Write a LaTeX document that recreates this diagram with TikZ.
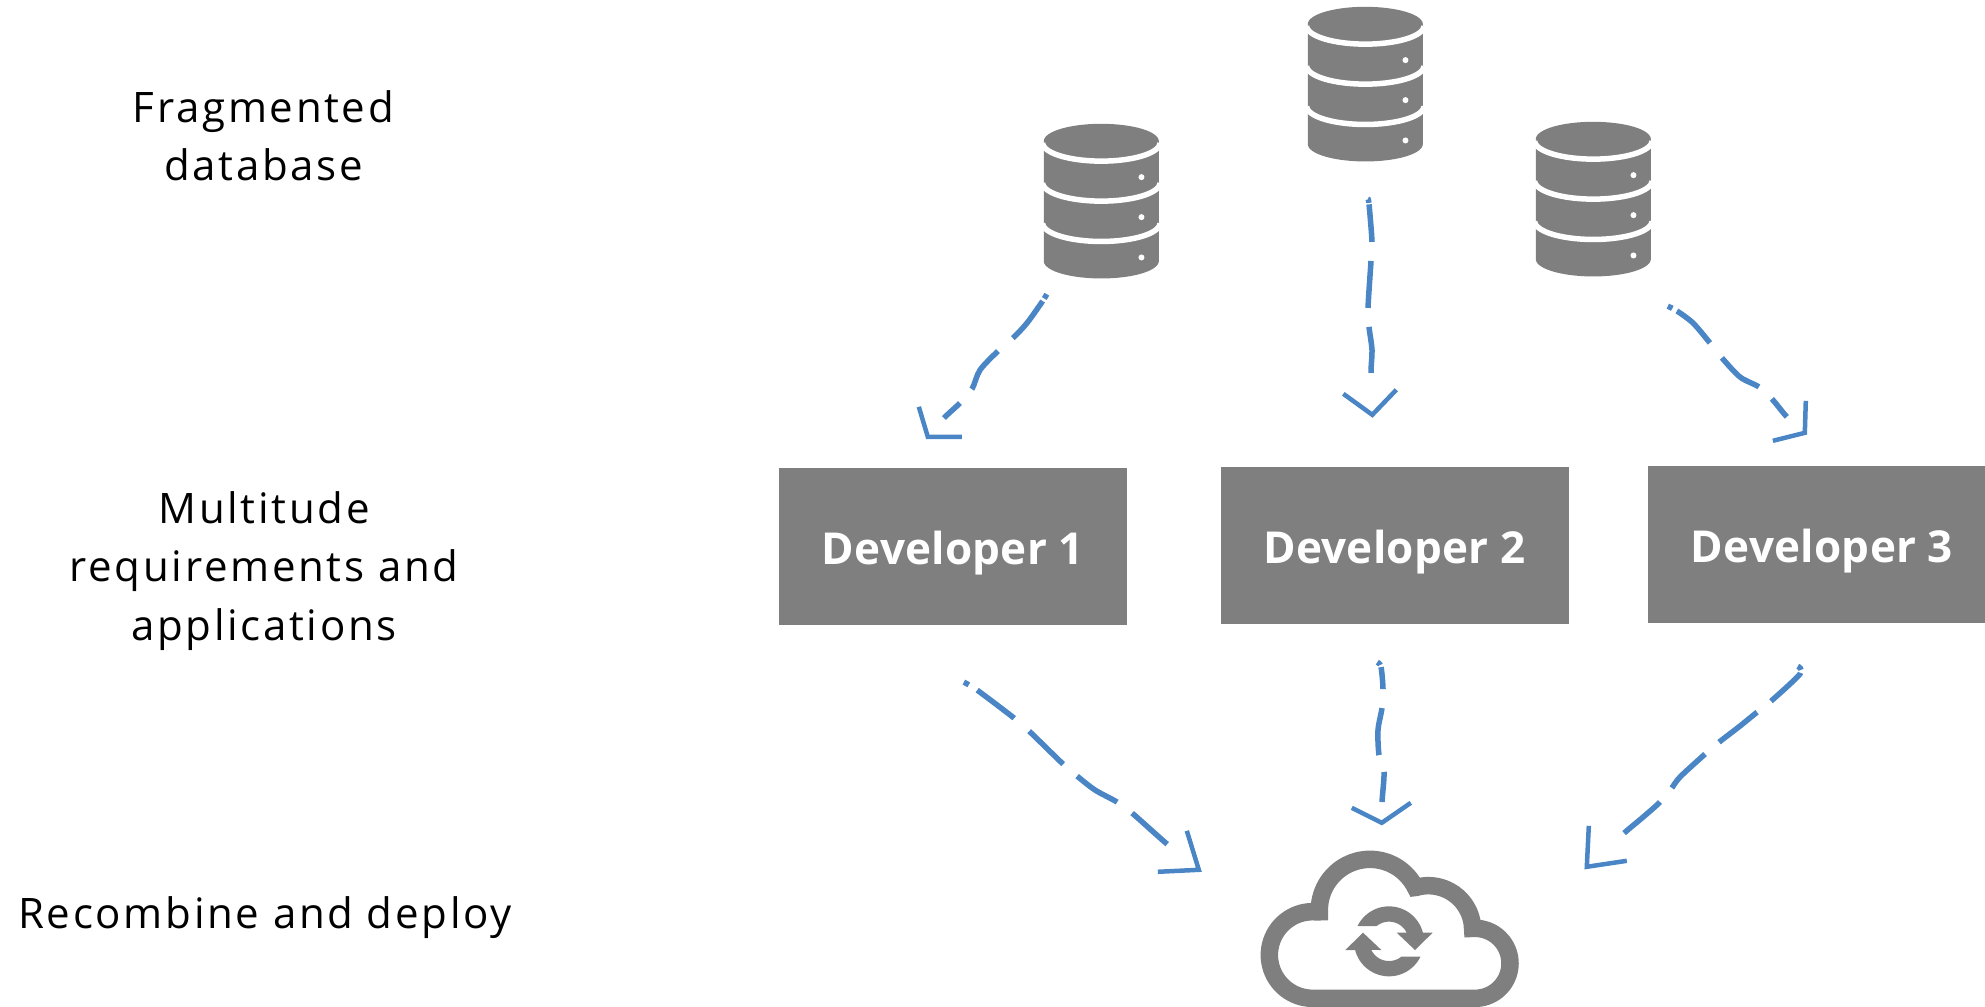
\documentclass[tikz,border=0pt]{standalone}
\usepackage{fontspec}
\setmainfont{Open Sans}
\newfontfamily\lblfont[LetterSpace=6.4]{Open Sans}
\newfontfamily\devfont[LetterSpace=0.6]{Open Sans}
\definecolor{iconGray}{HTML}{7F7F7F}
\definecolor{flowBlue}{HTML}{4A85C5}
\tikzset{
  x=1pt,y=-1pt,
  leftlabel/.style={align=center,inner sep=0pt,font=\lblfont\fontsize{42}{58.3}\selectfont},
  devbox/.style={fill=iconGray,text=white,inner sep=0pt,minimum width=348pt,minimum height=157pt,
    font=\devfont\bfseries\fontsize{44}{50}\selectfont,text height=35pt,text depth=0pt},
  iconbox/.style={inner sep=0pt,minimum width=115pt,minimum height=155pt},
  flow/.style={flowBlue,line width=5.5pt},
  chev/.style={flowBlue,line width=4.5pt,miter limit=10},
  database/.pic={
    \begin{scope}[scale=1/3]
      \fill[iconGray] plot[domain=180:360,samples=40] ({172.5+172.5*cos(\x)},{52+52*sin(\x)})
        -- plot[domain=0:180,samples=40] ({172.5+172.5*cos(\x)},{412+52*sin(\x)}) -- cycle;
      \foreach \yy in {57,177,298}
        \draw[white,line width=5.5pt] plot[domain=0:180,samples=40] ({172.5+176*cos(\x)},{\yy+55*sin(\x)});
      \foreach \yy in {160,280,401}
        \fill[white] (293,\yy) circle[radius=9];
    \end{scope}
  },
  syncarrow/.pic={
    \begin{scope}[scale=1/3]
    \fill[iconGray] plot[domain=206:345.6,samples=30] ({105*cos(\x)},{105*sin(\x)})
      -- (131,-26) -- (78,26) -- (23,-26)
      -- plot[domain=334:231,samples=30] ({59*cos(\x)},{59*sin(\x)}) -- cycle;
    \end{scope}
  }
}
\begin{document}
\begin{tikzpicture}
\useasboundingbox (0,0) rectangle (1985,1006);
\clip (0,0) rectangle (1985,1006);

% left labels
\node[leftlabel] (lblA) at (263.5,135.5) {Fragmented\\database};
\node[leftlabel] (lblB) at (264,571) {Multitude\\requirements and\\applications};
\node[leftlabel] (lblC) at (265,918) {Recombine and deploy};

% databases
\node[iconbox] (db1) at (1101.5,201.5) {};
\node[iconbox] (db2) at (1365.5,84.5) {};
\node[iconbox] (db3) at (1593.5,199.5) {};
\pic at (db1.north west) {database};
\pic at (db2.north west) {database};
\pic at (db3.north west) {database};

% developers
\node[devbox] (dev1) at (953,546.5) {Developer 1};
\node[devbox] (dev2) at (1394.5,545.5) {Developer 2};
\node[devbox] (dev3) at (1822,544.5) {Developer 3};

% cloud
\node[inner sep=0pt,minimum width=258pt,minimum height=157pt] (cloudicon) at (1390,928.5) {};
\begin{scope}[shift={(1220,780)},scale=1/3]
  \draw[iconGray,line width=17.5pt,miter limit=10]
    plot[domain=90:275,samples=40] ({278+130*cos(\x)},{525+130*sin(\x)})
    -- plot[domain=178:333.6,samples=40] ({450+152*cos(\x)},{390+152*sin(\x)})
    -- plot[domain=254:352,samples=30] ({625+133*cos(\x)},{450+133*sin(\x)})
    -- plot[domain=266:450,samples=40] ({765+105*cos(\x)},{550+105*sin(\x)})
    -- cycle;
  \pic at (507,484) {syncarrow};
  \pic[rotate=180] at (507,484) {syncarrow};
\end{scope}

% connector end points
\coordinate (s1) at ([shift={(3,15)}]db1.south west);
\coordinate (t1) at ([shift={(149,-31)}]dev1.north west);
\coordinate (s2) at ([shift={(60,37)}]db2.south west);
\coordinate (t2) at ([shift={(152,-52)}]dev2.north west);
\coordinate (s3) at ([shift={(132,29)}]db3.south west);
\coordinate (t3) at ([shift={(157,-33)}]dev3.north west);
\coordinate (s4) at ([shift={(185,57)}]dev1.south west);
\coordinate (t4) at ([shift={(-62,20)}]cloudicon.north west);
\coordinate (s5) at ([shift={(157,38)}]dev2.south west);
\coordinate (t5) at ([shift={(121,-27)}]cloudicon.north west);
\coordinate (s6) at ([shift={(150,43)}]dev3.south west);
\coordinate (t6) at ([shift={(326,17)}]cloudicon.north west);

% dashed connectors
\draw[flow,dash pattern=on 5pt off 3pt on 47.7pt off 19.8pt on 46.9pt off 18.4pt on 21.9pt off 200pt]
  plot[smooth] coordinates {(s1) (1042,302) (1027,323) (1013,338) (998,351) (980,370) (972,389) (960,403) (944,418) (t1)};
\draw[flow,dash pattern=on 4pt off 1.5pt on 37.7pt off 19pt on 47.1pt off 19pt on 46.2pt off 200pt]
  plot[smooth] coordinates {(s2) (1369,204) (1372,242) (1371,261) (1368,308) (1369,327) (1372,350) (1371,373) (t2)};
\draw[flow,dash pattern=on 5pt off 5.3pt on 46.2pt off 19.2pt on 47.7pt off 17.7pt on 23.4pt off 200pt]
  plot[smooth] coordinates {(s3) (1677,311) (1693,323) (1710,343) (1722,358) (1740,377) (1759,387) (1772,399) (1787,417) (t3)};
\draw[flow,dash pattern=on 5.6pt off 10pt on 46.4pt off 19.8pt on 47.4pt off 18.4pt on 47.9pt off 18.6pt on 46.8pt off 200pt]
  plot[smooth] coordinates {(s4) (977,690) (1014,718) (1029,731) (1063,764) (1077,776) (1095,790) (1117,802) (1132,813) (1167,844) (t4)};
\draw[flow,dash pattern=on 4pt off 2.4pt on 22.1pt off 19pt on 47.4pt off 17.7pt on 30.1pt off 200pt]
  plot[smooth] coordinates {(s5) (1381,667) (1383,689) (1382,708) (1378,730) (1379,755) (1384,772) (1382,802) (t5)};
\draw[flow,dash pattern=on 5pt off 3.2pt on 41pt off 17.8pt on 48.4pt off 18.4pt on 47.6pt off 18.4pt on 47.5pt off 200pt]
  plot[smooth] coordinates {(s6) (1800,674) (1770,702) (1756,713) (1740,726) (1718,743) (1704,755) (1680,777) (1671,789) (1659,803) (1642,818) (1623,834) (t6)};

% open arrowheads
\draw[chev] ([shift={(-9,-30)}]t1) -- (t1) -- ([shift={(34,0)}]t1);
\draw[chev] ([shift={(-29,-21)}]t2) -- (t2) -- ([shift={(24,-25)}]t2);
\draw[chev] ([shift={(1,-32)}]t3) -- (t3) -- ([shift={(-32,8)}]t3);
\draw[chev] ([shift={(-12,-39)}]t4) -- (t4) -- ([shift={(-41,2)}]t4);
\draw[chev] ([shift={(-30,-15)}]t5) -- (t5) -- ([shift={(29,-20)}]t5);
\draw[chev] ([shift={(2,-41)}]t6) -- (t6) -- ([shift={(40,-6)}]t6);
\end{tikzpicture}
\end{document}
